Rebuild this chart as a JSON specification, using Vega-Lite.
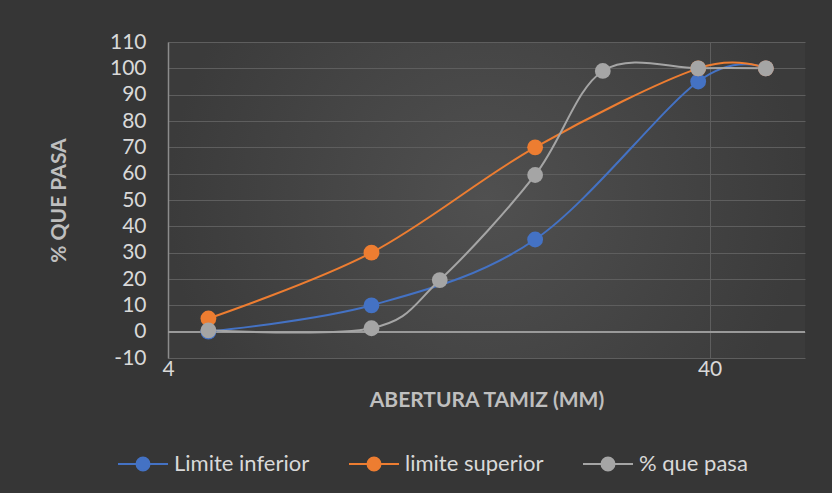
{
  "$schema": "https://vega.github.io/schema/vega-lite/v6.json",
  "width": 637,
  "height": 316,
  "autosize": {"type": "none"},
  "padding": {"left": 168, "top": 42, "right": 27, "bottom": 135},
  "background": "#363636",
  "config": {
    "view": {"stroke": null, "fill": {"gradient": "radial", "stops": [{"offset": 0, "color": "#505050"}, {"offset": 1, "color": "#3b3b3b"}]}},
    "font": "Lato"
  },
  "data": {
    "values": [
      {"serie": "Limite inferior", "mm": 4.75, "pasa": 0},
      {"serie": "Limite inferior", "mm": 9.5, "pasa": 10},
      {"serie": "Limite inferior", "mm": 19.05, "pasa": 35},
      {"serie": "Limite inferior", "mm": 38.1, "pasa": 95},
      {"serie": "Limite inferior", "mm": 50.8, "pasa": 100},
      {"serie": "limite superior", "mm": 4.75, "pasa": 5},
      {"serie": "limite superior", "mm": 9.5, "pasa": 30},
      {"serie": "limite superior", "mm": 19.05, "pasa": 70},
      {"serie": "limite superior", "mm": 38.1, "pasa": 100},
      {"serie": "limite superior", "mm": 50.8, "pasa": 100},
      {"serie": "% que pasa", "mm": 4.75, "pasa": 0.5},
      {"serie": "% que pasa", "mm": 9.5, "pasa": 1.3},
      {"serie": "% que pasa", "mm": 12.7, "pasa": 19.6},
      {"serie": "% que pasa", "mm": 19.05, "pasa": 59.5},
      {"serie": "% que pasa", "mm": 25.4, "pasa": 99},
      {"serie": "% que pasa", "mm": 38.1, "pasa": 100},
      {"serie": "% que pasa", "mm": 50.8, "pasa": 100}
    ]
  },
  "encoding": {
    "x": {
      "field": "mm", "type": "quantitative",
      "scale": {"type": "log", "domain": [4, 60], "nice": false},
      "axis": {
        "title": "ABERTURA TAMIZ (MM)",
        "values": [4, 40],
        "labelExpr": "datum.value",
        "labelFlush": false,
        "domain": false, "ticks": false,
        "grid": true, "gridColor": "#5e5e5e", "gridWidth": 1,
        "labelFontSize": 21, "labelColor": "#d9d9d9", "labelPadding": 0,
        "titleFontSize": 21, "titleFontWeight": "bold", "titleColor": "#bfbfbf", "titlePadding": 10
      }
    },
    "y": {
      "field": "pasa", "type": "quantitative",
      "scale": {"domain": [-10, 110], "nice": false, "zero": false},
      "axis": {
        "title": "% QUE PASA",
        "values": [-10, 0, 10, 20, 30, 40, 50, 60, 70, 80, 90, 100, 110],
        "labelExpr": "datum.value",
        "ticks": false,
        "domainColor": "#8c8c8c", "domainWidth": 1.5,
        "grid": true, "gridColor": "#5e5e5e", "gridWidth": 1,
        "labelFontSize": 21, "labelColor": "#d9d9d9", "labelPadding": 22,
        "titleFontSize": 21, "titleFontWeight": "bold", "titleColor": "#bfbfbf", "titlePadding": 40
      }
    },
    "color": {
      "field": "serie", "type": "nominal",
      "scale": {"domain": ["Limite inferior", "limite superior", "% que pasa"], "range": ["#4472C4", "#ED7D31", "#A5A5A5"]},
      "legend": {
        "orient": "none", "legendX": -51, "legendY": 396, "direction": "horizontal",
        "title": null,
        "symbolType": "M-1,0H1M0.26,0A0.26,0.26,0,1,1,-0.26,0A0.26,0.26,0,1,1,0.26,0Z",
        "symbolSize": 2500, "symbolStrokeWidth": 2,
        "labelFontSize": 22, "labelColor": "#d9d9d9", "labelFont": "Lato",
        "columnPadding": 35, "labelOffset": 5,
        "encode": {"symbols": {"update": {
          "fill": {"scale": "color", "field": "value"},
          "stroke": {"scale": "color", "field": "value"},
          "opacity": {"value": 1}
        }}}
      }
    }
  },
  "layer": [
    {
      "mark": {"type": "rule", "color": "#9a9a9a", "strokeWidth": 1.5},
      "encoding": {"y": {"datum": 0}, "color": {"value": "#9a9a9a"}, "x": null}
    },
    {
      "mark": {"type": "line", "interpolate": "cardinal", "strokeWidth": 2}
    },
    {
      "mark": {"type": "point", "filled": true, "opacity": 1, "size": 250}
    }
  ]
}
